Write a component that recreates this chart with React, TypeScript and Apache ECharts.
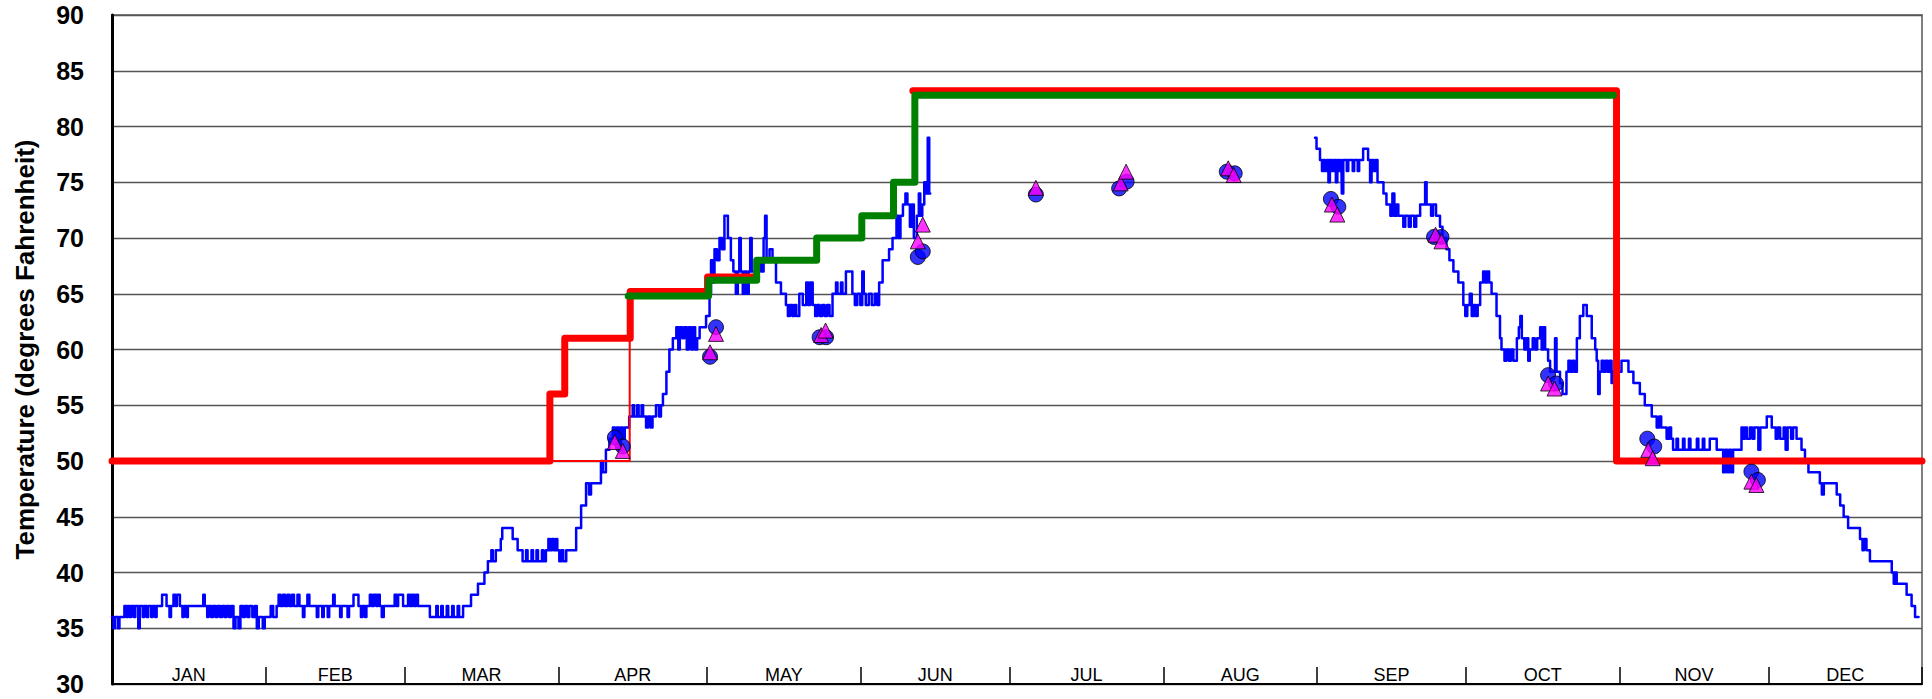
import React, { useEffect, useRef } from 'react';
import * as echarts from 'echarts';

const FONT = '"Liberation Sans", Arial, Helvetica, sans-serif';

const MONTHS = ['JAN', 'FEB', 'MAR', 'APR', 'MAY', 'JUN', 'JUL', 'AUG', 'SEP', 'OCT', 'NOV', 'DEC'];
const MONTH_STARTS = [0, 31, 59, 90, 120, 151, 181, 212, 243, 273, 304, 334, 365];
const MONTH_MIDS = MONTHS.map((_, i) => (MONTH_STARTS[i] + MONTH_STARTS[i + 1]) / 2);

const Y_MIN = 30;
const Y_MAX = 90;
const Y_STEP = 5;

// Measured temperature, [day of year, degrees F], Jan -> early Jun
const tempSpring: [number, number][] = [
  [0, 36], [0.3, 35], [0.6, 36], [1.2, 35], [1.5, 36], [2.5, 37], [2.9, 36], [3.2, 37], [3.6, 36], [3.9, 37],
  [4.4, 36], [4.7, 37], [5.3, 35], [5.6, 37], [6.2, 36], [6.5, 37], [7.0, 36], [7.3, 37], [7.9, 36], [8.2, 37],
  [8.7, 36], [9.0, 37], [10.1, 38], [11.0, 37], [11.6, 36], [11.9, 37], [12.4, 38], [12.8, 37], [13.1, 38], [13.7, 37],
  [14.2, 36], [14.5, 37], [15.0, 36], [15.3, 37], [18.4, 38], [18.7, 37], [19.2, 36], [19.5, 37], [20.0, 36], [20.4, 37],
  [20.9, 36], [21.3, 37], [21.8, 36], [22.2, 37], [22.7, 36], [23.1, 37], [23.6, 36], [24.0, 37], [24.5, 35], [24.9, 36],
  [25.5, 35], [25.9, 37], [26.4, 36], [26.8, 37], [27.3, 36], [27.7, 37], [28.3, 36], [28.8, 37], [29.2, 35], [29.6, 36],
  [30.4, 35], [30.8, 36], [32.0, 37], [32.5, 36], [33.2, 37], [33.6, 38], [34.0, 37], [34.5, 38], [34.9, 37], [35.4, 38],
  [35.8, 37], [36.3, 38], [36.7, 37], [37.4, 38], [37.8, 37], [38.5, 36], [38.8, 37], [39.4, 38], [39.8, 37], [41.3, 36],
  [41.6, 37], [42.4, 36], [42.7, 37], [43.5, 36], [43.8, 37], [44.6, 38], [44.9, 37], [46.0, 36], [46.3, 37], [47.5, 36],
  [47.8, 37], [48.7, 38], [49.7, 37], [50.2, 36], [50.5, 37], [51.0, 36], [51.3, 37], [52.0, 38], [52.4, 37], [52.8, 38],
  [53.3, 37], [53.6, 38], [54.0, 37], [54.4, 36], [54.8, 37], [57.0, 38], [57.4, 37], [57.7, 38], [58.7, 37], [59.7, 38],
  [60.1, 37], [60.5, 38], [60.9, 37], [61.3, 38], [61.7, 37], [64.1, 36], [65.4, 37], [65.7, 36], [66.4, 37], [66.7, 36],
  [67.5, 37], [67.8, 36], [68.6, 37], [68.9, 36], [69.7, 37], [70.0, 36], [70.8, 37], [72.4, 38], [73.8, 39], [75.1, 40],
  [75.8, 41], [76.5, 42], [76.8, 41], [77.4, 42], [78.4, 43], [78.7, 44], [80.8, 43], [81.8, 42], [82.8, 41], [83.5, 42],
  [83.8, 41], [84.6, 42], [84.9, 41], [85.6, 42], [85.9, 41], [86.7, 42], [87.0, 41], [87.5, 42], [88.0, 43], [88.3, 42],
  [88.7, 43], [89.1, 42], [89.5, 43], [89.8, 42], [90.2, 41], [90.6, 42], [91.0, 41], [91.6, 42], [93.6, 44], [94.6, 46],
  [95.6, 48], [96.2, 47], [96.6, 48], [98.6, 50], [99.0, 49], [99.6, 51], [100.3, 52], [101.0, 53], [101.4, 52], [101.8, 53],
  [102.2, 51], [102.6, 53], [103.0, 52], [103.4, 53], [104.3, 54], [105.0, 55], [105.3, 54], [105.9, 55], [106.2, 54], [106.8, 55],
  [107.1, 54], [107.7, 53], [108.1, 54], [108.6, 53], [109.0, 54], [109.7, 55], [110.3, 54], [110.7, 55], [111.1, 56], [111.8, 58],
  [112.4, 60], [113.1, 61], [113.8, 62], [114.2, 60], [114.5, 62], [115.0, 61], [115.4, 62], [115.9, 60], [116.3, 62], [116.8, 60],
  [117.2, 62], [117.6, 60], [118.0, 61], [118.5, 62], [119.8, 63], [120.5, 65], [120.8, 68], [121.2, 66], [121.5, 69], [122.0, 68],
  [122.5, 70], [123.0, 69], [123.5, 72], [124.2, 70], [124.8, 68], [125.3, 67], [125.8, 65], [126.2, 67], [126.5, 70], [126.8, 67],
  [127.2, 65], [127.6, 67], [128.0, 65], [128.4, 67], [128.7, 70], [129.0, 67], [130.6, 68], [131.0, 67], [131.4, 70], [131.7, 72],
  [132.0, 68], [132.6, 69], [133.2, 68], [133.9, 66], [134.9, 65], [135.9, 64], [136.3, 63], [136.7, 64], [137.2, 63], [137.6, 64],
  [138.0, 63], [138.6, 65], [139.3, 64], [140.0, 66], [140.4, 64], [140.8, 66], [141.3, 64], [141.8, 63], [142.2, 64], [142.7, 63],
  [143.2, 64], [143.7, 63], [144.2, 64], [144.7, 63], [145.3, 65], [146.0, 66], [146.3, 65], [147.0, 66], [147.3, 65], [148.0, 67],
  [149.3, 65], [149.8, 64], [150.3, 65], [150.9, 64], [151.3, 67], [151.6, 65], [152.0, 64], [152.6, 65], [153.2, 64], [153.8, 65],
  [154.3, 64], [154.7, 66], [155.4, 68], [156.7, 69], [157.4, 70], [158.2, 72], [158.6, 70], [159.0, 72], [159.5, 73], [160.0, 74],
  [160.4, 73], [160.9, 71], [161.3, 73], [161.7, 70], [162.3, 72], [162.7, 74], [163.0, 72], [163.4, 73], [163.8, 75], [164.2, 74],
  [164.5, 79], [164.8, 74], [165.0, 74],
];

// Measured temperature, [day of year, degrees F], Sep -> Dec
const tempFall: [number, number][] = [
  [242.6, 79], [242.9, 78], [243.6, 77], [244.0, 76], [244.3, 77], [244.6, 76], [245.0, 77], [245.3, 75], [245.6, 77], [246.0, 76],
  [246.4, 77], [246.8, 75], [247.1, 77], [247.5, 76], [247.9, 77], [248.0, 74], [248.3, 77], [249.0, 76], [249.3, 77], [250.2, 76],
  [250.5, 77], [251.2, 76], [251.5, 77], [252.3, 78], [253.3, 77], [253.7, 75], [254.0, 77], [254.4, 76], [254.8, 77], [255.2, 75],
  [256.4, 74], [257.0, 73], [257.8, 72], [258.2, 74], [258.6, 72], [259.0, 73], [259.4, 72], [260.4, 71], [260.8, 72], [261.5, 71],
  [261.9, 72], [262.6, 71], [263.0, 72], [263.8, 73], [264.8, 75], [265.1, 73], [266.0, 72], [266.4, 73], [267.0, 72], [267.8, 71],
  [268.3, 70], [269.1, 69], [269.7, 68], [270.5, 67], [271.5, 66], [272.5, 64], [272.9, 63], [273.3, 64], [273.8, 65], [274.2, 63],
  [274.6, 64], [275.0, 63], [275.4, 64], [275.9, 66], [276.5, 67], [276.9, 66], [277.3, 67], [277.7, 66], [278.2, 65], [279.2, 63],
  [279.9, 61], [280.2, 60], [280.8, 59], [281.2, 60], [281.7, 59], [282.1, 60], [282.6, 59], [283.3, 61], [283.7, 62], [284.0, 63],
  [284.3, 61], [284.8, 60], [285.2, 61], [285.6, 59], [285.9, 60], [286.5, 61], [286.9, 60], [287.4, 61], [288.0, 62], [288.3, 60],
  [288.6, 62], [289.0, 60], [289.6, 59], [290.0, 58], [291.0, 61], [291.3, 58], [292.0, 57], [292.5, 56], [293.3, 58], [293.7, 59],
  [294.1, 58], [294.5, 59], [294.9, 58], [295.4, 61], [296.0, 63], [296.7, 64], [297.4, 63], [298.4, 61], [299.1, 60], [299.4, 59],
  [299.7, 56], [300.0, 58], [300.4, 59], [300.8, 58], [301.2, 59], [301.6, 58], [302.0, 59], [302.4, 57], [302.7, 58], [304.4, 59],
  [305.8, 58], [306.8, 57], [308.1, 56], [309.1, 55], [310.5, 54], [311.5, 53], [312.0, 54], [312.4, 53], [313.5, 52], [314.0, 53],
  [314.4, 52], [314.8, 51], [315.5, 52], [315.8, 51], [316.8, 52], [317.1, 51], [318.0, 52], [318.3, 51], [319.6, 52], [319.9, 51],
  [320.8, 52], [321.1, 51], [322.2, 52], [323.6, 51], [324.9, 49], [325.3, 51], [325.7, 49], [326.1, 51], [326.5, 49], [326.9, 51],
  [328.6, 53], [329.0, 52], [329.3, 53], [329.7, 52], [330.3, 53], [330.8, 52], [331.2, 53], [332.0, 51], [332.4, 53], [333.7, 54],
  [334.7, 53], [335.5, 52], [335.9, 53], [336.4, 52], [337.1, 53], [337.5, 51], [337.9, 53], [338.6, 52], [339.0, 53], [339.7, 52],
  [340.7, 51], [341.4, 50], [342.1, 49], [344.4, 48], [344.8, 47], [345.2, 48], [347.8, 47], [348.5, 46], [349.2, 45], [350.1, 44],
  [352.5, 43], [353.0, 42], [353.3, 43], [353.8, 42], [354.5, 41], [358.9, 40], [359.3, 39], [359.6, 40], [359.9, 39], [361.9, 38],
  [362.9, 37], [363.6, 36], [364.3, 36],
];

// Set-point schedules, [day where value starts, degrees F]
const limitRedEarly: [number, number][] = [[0, 50], [88.3, 56], [91.3, 61], [104.5, 65.2], [120.1, 66.5], [130.0, 66.5]];
const limitRedLate: [number, number][] = [[161.5, 83.2], [303.4, 50], [365, 50]];
const limitRedThin: [number, number][] = [[88.3, 50], [104.4, 61], [104.4, 61]];
const limitGreen: [number, number][] = [
  [104.1, 64.8], [120.3, 66.2], [130.0, 68], [142.1, 70], [151.2, 72], [157.6, 75], [161.9, 82.8], [302.8, 82.8],
];

// Spot readings, [day of year, degrees F]
const circleReadings: [number, number][] = [
  [101.4, 52.1], [103.0, 51.3], [120.6, 59.35], [121.8, 62.0], [142.7, 61.1], [144.0, 61.1],
  [162.5, 68.3], [163.5, 68.8], [186.3, 73.9], [203.1, 74.45], [204.6, 75.05], [224.8, 75.95],
  [226.4, 75.8], [245.8, 73.5], [247.3, 72.8], [266.6, 70.1], [268.1, 70.1], [289.6, 57.7],
  [291.2, 56.95], [309.6, 52.0], [311.0, 51.3], [330.6, 49.05], [331.9, 48.3],
];
const triangleReadings: [number, number][] = [
  [101.4, 51.7], [103.0, 50.9], [120.6, 59.75], [121.8, 61.4], [143.0, 61.3], [143.9, 61.7],
  [162.5, 69.7], [163.5, 71.2], [186.3, 74.5], [203.4, 74.9], [204.5, 75.95], [225.1, 76.25],
  [226.2, 75.65], [246.0, 73.0], [247.1, 72.1], [266.9, 70.3], [268.1, 69.7], [289.6, 56.95],
  [290.9, 56.5], [309.8, 51.0], [310.7, 50.25], [330.6, 48.15], [331.6, 47.85],
];

export default function App() {
  const ref = useRef<HTMLDivElement>(null);

  useEffect(() => {
    if (!ref.current) return;
    const chart = echarts.init(ref.current, null, { renderer: 'svg' });

    const stepLine = (name: string, data: [number, number][], color: string, width: number, z: number) => ({
      name,
      type: 'line',
      data,
      step: 'end',
      showSymbol: false,
      symbol: 'none',
      z,
      lineStyle: { color, width, cap: 'round', join: 'round' },
      emphasis: { disabled: true },
    });

    chart.setOption({
      animation: false,
      backgroundColor: '#ffffff',
      grid: {
        left: 112,
        top: 15,
        width: 1810,
        height: 669,
        show: true,
        borderColor: '#808080',
        borderWidth: 2,
        backgroundColor: 'transparent',
      },
      xAxis: {
        type: 'value',
        min: 0,
        max: 365,
        splitLine: { show: false },
        axisLine: { show: true, onZero: false, lineStyle: { color: '#000', width: 2 } },
        axisTick: {
          show: true,
          inside: true,
          length: 17,
          customValues: MONTH_STARTS,
          lineStyle: { color: '#000', width: 1.5 },
        },
        axisLabel: {
          show: true,
          inside: true,
          margin: 0,
          customValues: MONTH_MIDS,
          color: '#000',
          fontSize: 18,
          fontFamily: FONT,
          formatter: (v: number) => {
            const i = MONTH_MIDS.findIndex((m) => Math.abs(m - v) < 0.01);
            return i >= 0 ? MONTHS[i] : '';
          },
        },
      },
      yAxis: {
        type: 'value',
        min: Y_MIN,
        max: Y_MAX,
        interval: Y_STEP,
        name: 'Temperature (degrees Fahrenheit)',
        nameLocation: 'middle',
        nameRotate: 90,
        nameGap: 74,
        nameTextStyle: { color: '#000', fontSize: 26, fontWeight: 'bold', fontFamily: FONT },
        axisLine: { show: true, lineStyle: { color: '#000', width: 3 } },
        axisTick: { show: false },
        axisLabel: { color: '#000', fontSize: 25, fontWeight: 'bold', fontFamily: FONT, margin: 28 },
        splitLine: { show: true, lineStyle: { color: '#555555', width: 1.3 } },
      },
      series: [
        stepLine('Temperature spring', tempSpring, '#0000ff', 2.5, 2),
        stepLine('Temperature fall', tempFall, '#0000ff', 2.5, 2),
        stepLine('Lower limit thin', limitRedThin, '#ff0000', 2, 3),
        stepLine('Limit red early', limitRedEarly, '#ff0000', 7, 4),
        stepLine('Limit red late', limitRedLate, '#ff0000', 7, 4),
        stepLine('Limit green', limitGreen, '#008000', 7, 5),
        {
          name: 'Circle readings',
          type: 'scatter',
          data: circleReadings,
          symbol: 'circle',
          symbolSize: 15,
          z: 6,
          itemStyle: { color: '#0000ff', borderColor: '#000', borderWidth: 1 },
          emphasis: { disabled: true },
        },
        {
          name: 'Triangle readings',
          type: 'scatter',
          data: triangleReadings,
          symbol: 'triangle',
          symbolSize: 15,
          z: 7,
          itemStyle: { color: '#ff00ff', borderColor: '#000', borderWidth: 1 },
          emphasis: { disabled: true },
        },
      ],
    });

    return () => chart.dispose();
  }, []);

  return (
    <div
      ref={ref}
      style={{ position: 'absolute', left: 0, top: 0, width: 1932, height: 699, background: '#fff' }}
    />
  );
}
